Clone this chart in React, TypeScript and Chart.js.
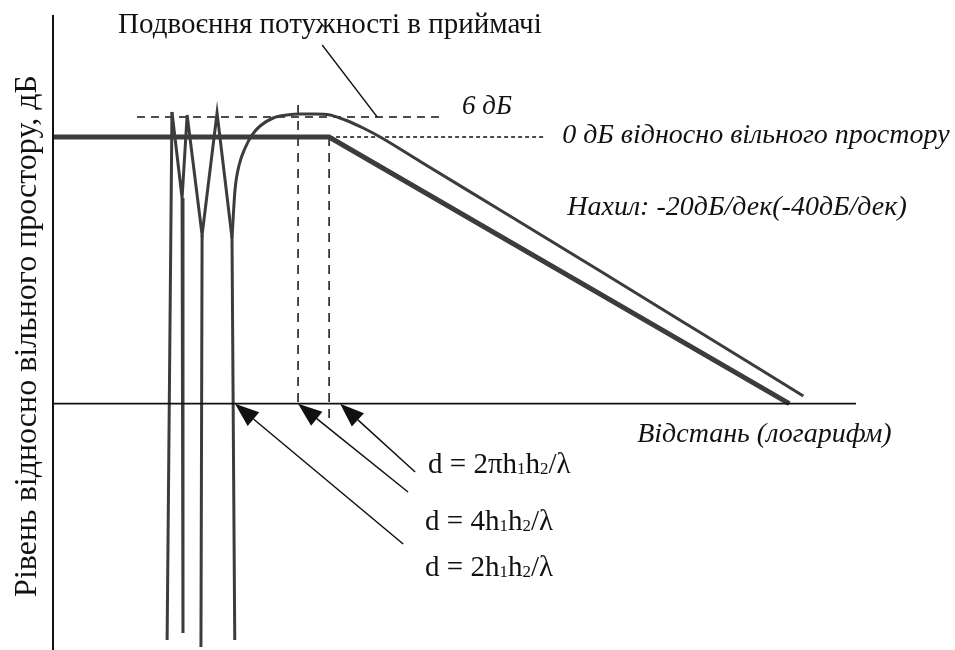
import React, { useEffect, useRef } from "react";
import { Chart, registerables } from "chart.js";

Chart.register(...registerables);

// Horizontal: log10 of distance, in decades from the origin.
// Vertical: received level in dB relative to free space.
const X_MAX = 3.49;
const DB_MAX = 36.6;
const DB_MIN = -153.9;
const AXIS_DB = -80;

// Free-space level up to the break point, then the -40 dB/decade asymptote
const asymptoteX = [0, 1.2, 3.2];
const asymptoteDb = [0, 0, -80];

// Interference lobes: peaks and the shoulders of the nulls
const lobeX = [0.517, 0.561, 0.583, 0.648, 0.713, 0.778];
const lobeDb = [7.5, -18.3, 6.6, -29.4, 7.2, -30.3];

// Deep nulls, each one dropping from a lobe point (index into the lobe arrays)
const nullX = [0.496, 0.565, 0.643, 0.79];
const nullDb = [-150.9, -148.8, -153.0, -150.9];
const nullFrom = [0, 1, 3, 5];

// Two-ray level after the last null
const twoRayX = [0.778, 0.791, 0.809, 0.835, 0.865, 0.9, 0.957, 1.017, 1.074, 1.139, 1.204, 1.27, 1.348, 1.422, 1.596, 1.943, 2.378, 2.813, 3.261];
const twoRayDb = [-30.3, -15.9, -8.4, -3.3, 0.6, 3.3, 5.7, 6.6, 6.9, 6.9, 6.6, 5.1, 2.7, 0, -7.35, -21.9, -40.2, -58.65, -77.7];

// Reference levels
const sixDbX = [0.365, 1.683];
const SIX_DB = 6;
const zeroDbX = [1.2, 2.139];

// Characteristic distances: d = 4h1h2/λ and d = 2πh1h2/λ
const markerX = [1.065, 1.2];
const markerTopDb = [9.6, 0];
const markerBottomDb = [-80, -84.9];

// Leader from the caption to the +6 dB level
const leaderX = [1.17, 1.409];
const leaderDb = [27.6, 6];

// Arrows to the distances on the axis (2π, 4, 2)
const arrowTailX = [1.574, 1.543, 1.522];
const arrowTailDb = [-100.5, -106.5, -122.1];
const arrowTipX = [1.248, 1.065, 0.791];
const arrowTipDb = [-80, -80, -80];

const SERIF = '"Liberation Serif", "Times New Roman", serif';
const INK = "#111111";
const CURVE = "#3c3c3c";

type Label = { text: string; x: number; y: number; size: number; italic?: boolean; rotate?: boolean };

const labels: Label[] = [
  { text: "Подвоєння потужності в приймачі", x: 0.283, y: 31.2, size: 29 },
  { text: "6 дБ", x: 1.778, y: 6.9, size: 27, italic: true },
  { text: "0 дБ відносно вільного простору", x: 2.213, y: -1.8, size: 28, italic: true },
  { text: "Нахил: -20дБ/дек(-40дБ/дек)", x: 2.235, y: -23.4, size: 28, italic: true },
  { text: "Відстань (логарифм)", x: 2.539, y: -91.5, size: 28, italic: true },
  { text: "d = 2πh_1h_2/λ", x: 1.63, y: -100.8, size: 29 },
  { text: "d = 4h_1h_2/λ", x: 1.617, y: -117.9, size: 29 },
  { text: "d = 2h_1h_2/λ", x: 1.617, y: -131.7, size: 29 },
  { text: "Рівень відносно вільного простору, дБ", x: -0.109, y: -59.7, size: 32, rotate: true },
];

const pts = (xs: number[], ys: number[]) => xs.map((x, i) => ({ x, y: ys[i] }));

const nullStems = () => {
  const out: { x: number; y: number | null }[] = [];
  nullX.forEach((x, i) => {
    const k = nullFrom[i];
    out.push({ x: lobeX[k], y: lobeDb[k] }, { x, y: nullDb[i] }, { x, y: null });
  });
  return out;
};

// Splits "h_1" style markup into normal and subscript runs
const runs = (text: string) => {
  const out: { s: string; sub: boolean }[] = [];
  let buf = "";
  for (let i = 0; i < text.length; i++) {
    if (text[i] === "_" && i + 1 < text.length) {
      if (buf) out.push({ s: buf, sub: false });
      buf = "";
      out.push({ s: text[i + 1], sub: true });
      i++;
    } else buf += text[i];
  }
  if (buf) out.push({ s: buf, sub: false });
  return out;
};

const annotations = {
  id: "annotations",
  afterDatasetsDraw(chart: any) {
    const { ctx } = chart;
    const sx = chart.scales.x;
    const sy = chart.scales.y;
    ctx.save();

    // arrows
    ctx.strokeStyle = INK;
    ctx.fillStyle = INK;
    ctx.lineWidth = 1.5;
    arrowTipX.forEach((tx, i) => {
      const x1 = sx.getPixelForValue(arrowTailX[i]);
      const y1 = sy.getPixelForValue(arrowTailDb[i]);
      const x2 = sx.getPixelForValue(tx);
      const y2 = sy.getPixelForValue(arrowTipDb[i]);
      const a = Math.atan2(y2 - y1, x2 - x1);
      const len = 24;
      const half = 9;
      const bx = x2 - len * Math.cos(a);
      const by = y2 - len * Math.sin(a);
      ctx.beginPath();
      ctx.moveTo(x1, y1);
      ctx.lineTo(bx, by);
      ctx.stroke();
      ctx.beginPath();
      ctx.moveTo(x2, y2);
      ctx.lineTo(bx + half * Math.sin(a), by - half * Math.cos(a));
      ctx.lineTo(bx - half * Math.sin(a), by + half * Math.cos(a));
      ctx.closePath();
      ctx.fill();
    });

    // text
    ctx.fillStyle = INK;
    labels.forEach((l) => {
      const px = sx.getPixelForValue(l.x);
      const py = sy.getPixelForValue(l.y);
      const font = (s: number) => `${l.italic ? "italic " : ""}${s}px ${SERIF}`;
      if (l.rotate) {
        ctx.save();
        ctx.translate(px, py);
        ctx.rotate(-Math.PI / 2);
        ctx.font = font(l.size);
        ctx.textAlign = "center";
        ctx.textBaseline = "middle";
        ctx.fillText(l.text, 0, 0);
        ctx.restore();
        return;
      }
      ctx.textAlign = "left";
      ctx.textBaseline = "alphabetic";
      let cx = px;
      runs(l.text).forEach((r) => {
        const size = r.sub ? Math.round(l.size * 0.6) : l.size;
        ctx.font = font(size);
        ctx.fillText(r.s, cx, py + (r.sub ? 1 : 0));
        cx += ctx.measureText(r.s).width;
      });
    });
    ctx.restore();
  },
};

const line = (data: any[], width: number, color: string, extra: any = {}) => ({
  data,
  borderColor: color,
  borderWidth: width,
  pointRadius: 0,
  tension: 0,
  fill: false,
  clip: false,
  spanGaps: false,
  ...extra,
});

export default function App() {
  const ref = useRef<HTMLCanvasElement>(null);

  useEffect(() => {
    const chart = new Chart(ref.current as HTMLCanvasElement, {
      type: "line",
      data: {
        datasets: [
          line([{ x: 0, y: DB_MAX }, { x: 0, y: DB_MIN }], 2, INK),
          line([{ x: 0, y: AXIS_DB }, { x: X_MAX, y: AXIS_DB }], 1.8, INK),
          line(pts(asymptoteX, asymptoteDb), 5, CURVE, { borderJoinStyle: "miter" }),
          line(pts(lobeX, lobeDb), 3, CURVE),
          line(nullStems(), 3, CURVE),
          line(pts(twoRayX, twoRayDb), 3, CURVE, { cubicInterpolationMode: "monotone" }),
          line(pts(sixDbX, [SIX_DB, SIX_DB]), 1.5, INK, { borderDash: [8, 6] }),
          line(pts(zeroDbX, [0, 0]), 1.5, INK, { borderDash: [4, 3] }),
          ...markerX.map((mx, i) =>
            line([{ x: mx, y: markerTopDb[i] }, { x: mx, y: markerBottomDb[i] }], 1.5, INK, { borderDash: [9, 7] })
          ),
          line(pts(leaderX, leaderDb), 1.3, INK),
        ],
      },
      options: {
        responsive: false,
        animation: false,
        events: [],
        layout: { padding: { left: 53, top: 15, right: 99, bottom: 0 } },
        scales: {
          x: { type: "linear", min: 0, max: X_MAX, display: false },
          y: { type: "linear", min: DB_MIN, max: DB_MAX, display: false },
        },
        plugins: { legend: { display: false }, tooltip: { enabled: false } },
      },
      plugins: [annotations],
    });
    return () => chart.destroy();
  }, []);

  return (
    <div style={{ position: "fixed", left: 0, top: 0, width: 955, height: 650, background: "#fff" }}>
      <canvas ref={ref} width={955} height={650} style={{ display: "block" }} />
    </div>
  );
}
